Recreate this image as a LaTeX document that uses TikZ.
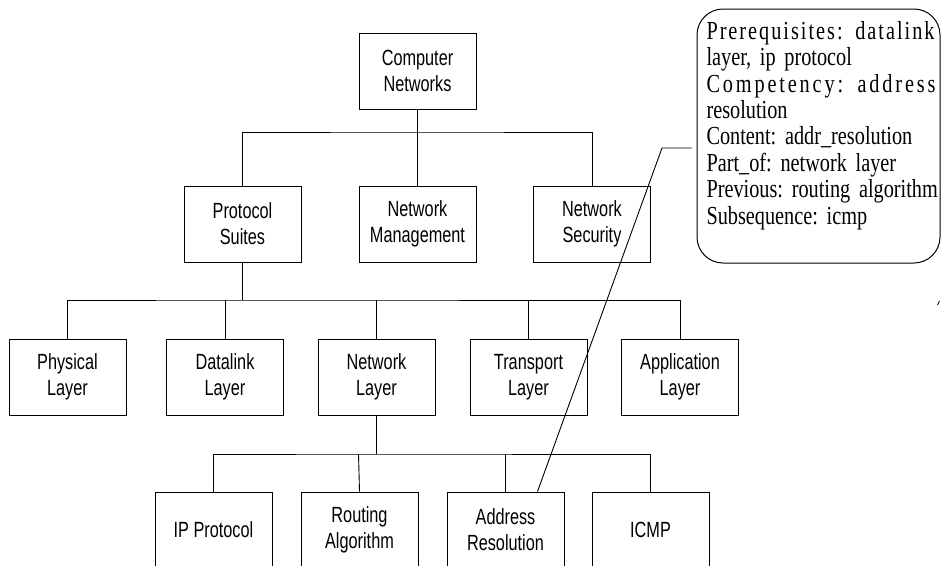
\documentclass[tikz,border=0pt]{standalone}
\usepackage{fontspec}
\newfontfamily\boxfont[FakeStretch=0.74]{Liberation Sans}
\newfontfamily\notefont[FakeStretch=0.78]{Liberation Serif}
\begin{document}
\begin{tikzpicture}[x=1pt,y=-1pt,
  line width=1pt,
  topic/.style={draw, minimum width=117pt, minimum height=76pt, inner sep=0pt,
    align=center, font={\boxfont\fontsize{22pt}{26pt}\selectfont}},
  link/.style={draw, line width=0.9pt},
  callout/.style={draw, rounded corners=26pt, minimum width=243pt, minimum height=254pt, inner sep=0pt},
  notetext/.style={anchor=north west, inner sep=0pt, text width=240pt, align=left,
    font={\notefont\fontsize{26pt}{26.4pt}\selectfont\frenchspacing\hyphenpenalty=10000}}
]
\useasboundingbox (0,0) rectangle (941,565);

% level 1
\node[topic] (cn) at (417.5,71) {Computer\\Networks};
% level 2
\node[topic] (ps) at (242.5,224) {Protocol\\Suites};
\node[topic] (nm) at (417.5,224) {Network\\Management};
\node[topic] (ns) at (592,224) {Network\\Security};
% level 3
\node[topic] (phy) at (67.5,377) {Physical\\Layer};
\node[topic] (dl) at (225,377) {Datalink\\Layer};
\node[topic] (nl) at (376.5,377) {Network\\Layer};
\node[topic] (tl) at (528.5,377) {Transport\\Layer};
\node[topic] (al) at (680,377) {Application\\Layer};
% level 4
\node[topic] (ip) at (213.5,530) {IP Protocol};
\node[topic] (ra) at (359.5,530) {Routing\\Algorithm};
\node[topic] (ar) at (505.5,530) {Address\\Resolution};
\node[topic] (icmp) at (650.5,530) {ICMP};

% buses
\coordinate (b1) at (417.5,132);
\coordinate (b2) at (242.5,300);
\coordinate (b3) at (376.5,454);

\draw[link] (cn.south) -- (nm.north);
\draw[link] (ps.north) |- (b1) -| (ns.north);

\draw[link] (ps.south) -- (b2);
\draw[link] (phy.north) |- (b2) -| (al.north);
\draw[link] (dl.north) -- (dl.north |- b2);
\draw[link] (nl.north) -- (nl.north |- b2);
\draw[link] (tl.north) -- (tl.north |- b2);

\draw[link] (nl.south) -- (b3);
\draw[link] (ip.north) |- (b3) -| (icmp.north);
\draw[link] (ra.north) -- ([xshift=-1pt]ra.north |- b3);
\draw[link] (ar.north) -- (ar.north |- b3);

% callout
\node[callout] (note) at (818.5,136) {};
\node[notetext] (notetxt) at (706,20.8) {%
\makebox[228pt][s]{P\hfil r\hfil e\hfil r\hfil e\hfil q\hfil u\hfil i\hfil s\hfil i\hfil t\hfil e\hfil s\hfil :\hfil\ \hfil d\hfil a\hfil t\hfil a\hfil l\hfil i\hfil n\hfil k}\\
layer, ip protocol\\
\makebox[229pt][s]{C\hfil o\hfil m\hfil p\hfil e\hfil t\hfil e\hfil n\hfil c\hfil y\hfil :\hfil\ \hfil a\hfil d\hfil d\hfil r\hfil e\hfil s\hfil s}\\
resolution\\
Content: addr\_resolution\\
Part\_of: network layer\\
Previous: routing algorithm\\
Subsequence: icmp};

\coordinate (ce1) at (662,148);
\coordinate (ce2) at (692,148);
\draw[link] ([xshift=32pt]ar.north) -- (ce1) -- (ce2);

% stray tick
\coordinate (t1) at (937.5,305);
\coordinate (t2) at (939.5,301);
\draw[line width=0.8pt] (t1) -- (t2);
\end{tikzpicture}
\end{document}
